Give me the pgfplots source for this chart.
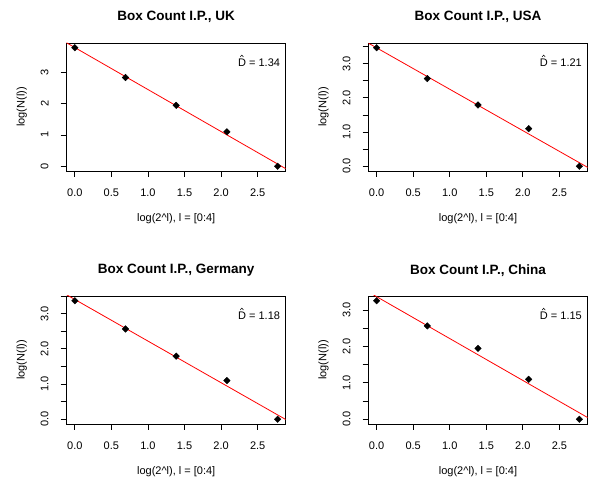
\documentclass[border=0pt]{standalone}
\usepackage{fontspec}
\setmainfont{Liberation Sans}
\usepackage{pgfplots}
\pgfplotsset{compat=1.18}

\pgfplotsset{
  rstyle/.style={
    scale only axis, width=219pt, height=128pt, anchor=south west,
    xmin=-0.1109, xmax=2.8835,
    axis line style={line width=0.9pt, black},
    tick align=outside, xtick pos=left, ytick pos=left,
    major tick length=6pt,
    every tick/.style={black, line width=0.8pt},
    xtick={0,0.5,1,1.5,2,2.5}, xticklabels={0.0,0.5,1.0,1.5,2.0,2.5},
    ticklabel style={font=\fontsize{11}{13}\selectfont},
    xticklabel style={anchor=center, yshift=-16pt},
    yticklabel style={xshift=-16pt, rotate=90, anchor=center},
    clip=true,
  },
  fitline/.style={red, line width=0.8pt, no marks},
  pts/.style={only marks, mark=square*, mark size=2.3pt, mark options={rotate=45, fill=black, draw=black}},
}
\newcommand{\dhatlabel}[1]{%
  \node[anchor=base east, inner sep=0pt, font=\fontsize{11}{13}\selectfont] (dh) at (rel axis cs:0.975,0.815) {D = #1};
  \draw[black, line width=0.5pt] ([xshift=2.3pt,yshift=1.8pt]dh.north west) -- ++(1.6pt,1.9pt) -- ++(1.6pt,-1.9pt);
}

\begin{document}
\begin{tikzpicture}[x=1pt,y=1pt]
\path (0,0) rectangle (590,481);

% UK
\begin{axis}[rstyle, at={(66.7pt,310pt)}, ymin=-0.151, ymax=3.935,
  ytick={0,1,2,3}, yticklabels={0,1,2,3}]
\addplot[fitline] coordinates {(-0.2,4.058) (3.0,-0.232)};
\addplot[pts] coordinates {(0,3.784) (0.6931,2.833) (1.3863,1.946) (2.0794,1.0986) (2.7726,0)};
\dhatlabel{1.34}
\end{axis}

% USA
\begin{axis}[rstyle, at={(368.5pt,310pt)}, ymin=-0.139, ymax=3.605,
  ytick={0,0.5,1,1.5,2,2.5,3,3.5}, yticklabels={0.0,,1.0,,2.0,,3.0,}]
\addplot[fitline] coordinates {(-0.2,3.706) (3.0,-0.172)};
\addplot[pts] coordinates {(0,3.466) (0.6931,2.565) (1.3863,1.792) (2.0794,1.0986) (2.7726,0)};
\dhatlabel{1.21}
\end{axis}

% Germany
\begin{axis}[rstyle, at={(66.7pt,57pt)}, ymin=-0.135, ymax=3.502,
  ytick={0,0.5,1,1.5,2,2.5,3,3.5}, yticklabels={0.0,,1.0,,2.0,,3.0,}]
\addplot[fitline] coordinates {(-0.2,3.641) (3.0,-0.145)};
\addplot[pts] coordinates {(0,3.367) (0.6931,2.565) (1.3863,1.792) (2.0794,1.0986) (2.7726,0)};
\dhatlabel{1.18}
\end{axis}

% China
\begin{axis}[rstyle, at={(368.5pt,57pt)}, ymin=-0.130, ymax=3.388,
  ytick={0,0.5,1,1.5,2,2.5,3}, yticklabels={0.0,,1.0,,2.0,,3.0}]
\addplot[fitline] coordinates {(-0.2,3.600) (3.0,-0.085)};
\addplot[pts] coordinates {(0,3.258) (0.6931,2.565) (1.3863,1.946) (2.0794,1.0986) (2.7726,0)};
\dhatlabel{1.15}
\end{axis}

% titles
\begin{scope}[every node/.style={font=\bfseries\fontsize{13.5}{16}\selectfont}]
\node at (176.2,464) {Box Count I.P., UK};
\node at (478,464) {Box Count I.P., USA};
\node at (176.2,210.5) {Box Count I.P., Germany};
\node at (478,210.5) {Box Count I.P., China};
\end{scope}

% axis labels
\begin{scope}[every node/.style={font=\fontsize{11}{13}\selectfont}]
\node at (176.2,262) {log(2\textasciicircum l), l = [0:4]};
\node at (478,262) {log(2\textasciicircum l), l = [0:4]};
\node at (176.2,9.3) {log(2\textasciicircum l), l = [0:4]};
\node at (478,9.3) {log(2\textasciicircum l), l = [0:4]};
\node[rotate=90] at (21.7,374) {log(N(l))};
\node[rotate=90] at (323.5,374) {log(N(l))};
\node[rotate=90] at (21.7,121) {log(N(l))};
\node[rotate=90] at (323.5,121) {log(N(l))};
\end{scope}
\end{tikzpicture}
\end{document}
